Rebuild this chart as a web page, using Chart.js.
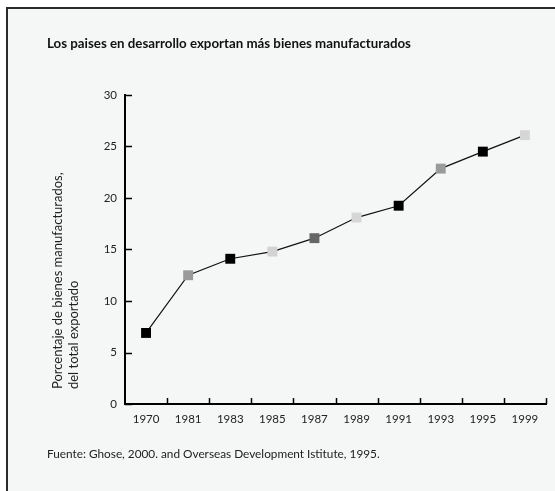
<!DOCTYPE html>
<html><head><meta charset="utf-8">
<script src="https://cdn.jsdelivr.net/npm/chart.js@4"></script>
<style>
html,body{margin:0;padding:0;background:#fff;}
#frame{position:absolute;left:6px;top:7px;width:549px;height:484px;background:#f5f6f6;border-left:2px solid #2a2a2a;border-top:2px solid #2a2a2a;}
#wrap{position:absolute;left:0;top:0;width:555px;height:491px;}
</style></head>
<body>
<div id="frame"></div>
<div id="wrap"><canvas id="c" width="555" height="491"></canvas></div>
<script>
const years = ['1970','1981','1983','1985','1987','1989','1991','1993','1995','1999'];
const shares = [6.9, 12.5, 14.1, 14.8, 16.1, 18.1, 19.25, 22.85, 24.5, 26.1];
const markerColors = ['#000000','#9a9a9a','#000000','#d3d3d3','#666666','#d6d6d6','#000000','#9a9a9a','#000000','#d6d6d6'];
const yTicks = [0,5,10,15,20,25,30];
const titleText = 'Los paises en desarrollo exportan más bienes manufacturados';
const yTitle = ['Porcentaje de bienes manufacturados,','del total exportado'];
const sourceText = 'Fuente: Ghose, 2000. and Overseas Development Istitute, 1995.';

const FONT = 'Lato, "Open Sans", sans-serif';

const innerTicks = {
  id:'innerTicks',
  afterDraw(chart){
    const ctx = chart.ctx, x = chart.scales.x, y = chart.scales.y;
    ctx.save();
    ctx.strokeStyle = '#000'; ctx.lineWidth = 1.5;
    yTicks.forEach(v=>{
      const py = Math.round(y.getPixelForValue(v))+0.5;
      ctx.beginPath(); ctx.moveTo(x.left, py); ctx.lineTo(x.left+7, py); ctx.stroke();
    });
    const half = (x.getPixelForValue(1)-x.getPixelForValue(0))/2;
    years.forEach((_,i)=>{
      const px = Math.round(x.getPixelForValue(i)+half)+0.5;
      ctx.beginPath(); ctx.moveTo(px, y.bottom); ctx.lineTo(px, y.bottom-6); ctx.stroke();
    });
    ctx.restore();
  }
};

const yAxisTitle = {
  id:'yAxisTitle',
  afterDraw(chart){
    const ctx = chart.ctx, y = chart.scales.y;
    ctx.save();
    ctx.fillStyle = '#222';
    ctx.font = '13px ' + FONT;
    ctx.textAlign = 'left';
    ctx.textBaseline = 'middle';
    const startY = y.bottom - 15;
    yTitle.forEach((line,i)=>{
      ctx.save();
      ctx.translate(58 + i*16, startY);
      ctx.rotate(-Math.PI/2);
      ctx.fillText(line, 0, 0);
      ctx.restore();
    });
    ctx.restore();
  }
};

new Chart(document.getElementById('c'), {
  type:'line',
  data:{labels:years, datasets:[{
    data:shares,
    borderColor:'#111', borderWidth:1.2,
    pointStyle:'rect', pointRadius:7, pointHoverRadius:7,
    pointBackgroundColor:markerColors, pointBorderColor:markerColors, pointBorderWidth:0,
    tension:0
  }]},
  options:{
    responsive:false, animation:false,
    layout:{padding:{left:47,right:9,top:29,bottom:0}},
    plugins:{
      legend:{display:false}, tooltip:{enabled:false},
      title:{display:true, text:titleText, align:'start', color:'#111',
        font:{family:FONT, size:13.3, weight:'bold', lineHeight:1.2}, padding:{top:7,bottom:43}},
      subtitle:{display:true, position:'bottom', text:sourceText, align:'start', color:'#222',
        font:{family:FONT, size:11.8}, padding:{top:13,bottom:30}}
    },
    scales:{
      x:{
        offset:true,
        grid:{display:false, drawTicks:false},
        border:{display:true, color:'#000', width:2},
        ticks:{color:'#222', font:{family:FONT, size:11.5}, padding:8, maxRotation:0}
      },
      y:{
        min:0, max:30,
        afterBuildTicks(s){ s.ticks = yTicks.map(v=>({value:v})); },
        afterFit(s){ s.width = 78; },
        grid:{display:false, drawTicks:false},
        border:{display:true, color:'#000', width:2},
        ticks:{color:'#222', font:{family:FONT, size:11.5}, padding:8},
        title:{display:false}
      }
    }
  },
  plugins:[innerTicks, yAxisTitle]
});
</script>
</body></html>
